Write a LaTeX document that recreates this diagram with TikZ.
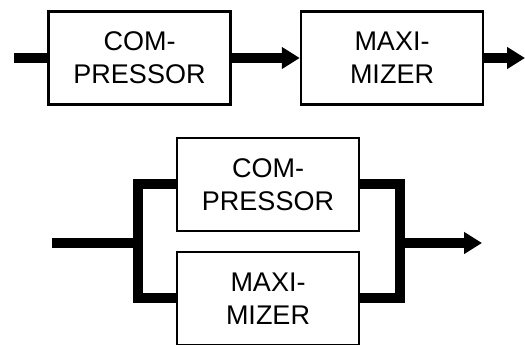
\documentclass[tikz,border=0pt]{standalone}
\usepackage{fontspec}
\setmainfont{Liberation Sans}
\usetikzlibrary{arrows.meta}
\begin{document}
\begin{tikzpicture}[x=1pt, y=1pt,
    block/.style={draw, line width=2.5pt, minimum width=182pt, minimum height=93pt,
        align=center, font=\fontsize{27}{33}\selectfont, inner sep=0pt},
    wire/.style={line width=10pt},
    arrow/.style={wire, -{Triangle[length=18pt, width=21pt]}}]
    \clip (0,0) rectangle (525,345);

    % Series chain
    \node[block] (comp) at (139.5,287) {COM-\\PRESSOR};
    \node[block] (maxi) at (392,287) {MAXI-\\MIZER};
    \coordinate (in1) at (14,287);
    \coordinate (out1) at (525,287);
    \draw[wire] (in1) -- (comp);
    \draw[arrow] (comp) -- (maxi);
    \draw[arrow] (maxi) -- (out1);

    % Parallel chain
    \node[block] (pcomp) at (268,160.5) {COM-\\PRESSOR};
    \node[block] (pmaxi) at (268,46.5) {MAXI-\\MIZER};
    \coordinate (in2) at (52,102);
    \coordinate (split) at (137.5,102);
    \coordinate (join) at (400,102);
    \coordinate (out2) at (482,102);
    \draw[wire] (in2) -- (split);
    \draw[wire] (pcomp.west) -| (split) |- (pmaxi.west);
    \draw[wire] (pcomp.east) -| (join) |- (pmaxi.east);
    \draw[arrow] (join) -- (out2);
\end{tikzpicture}
\end{document}
